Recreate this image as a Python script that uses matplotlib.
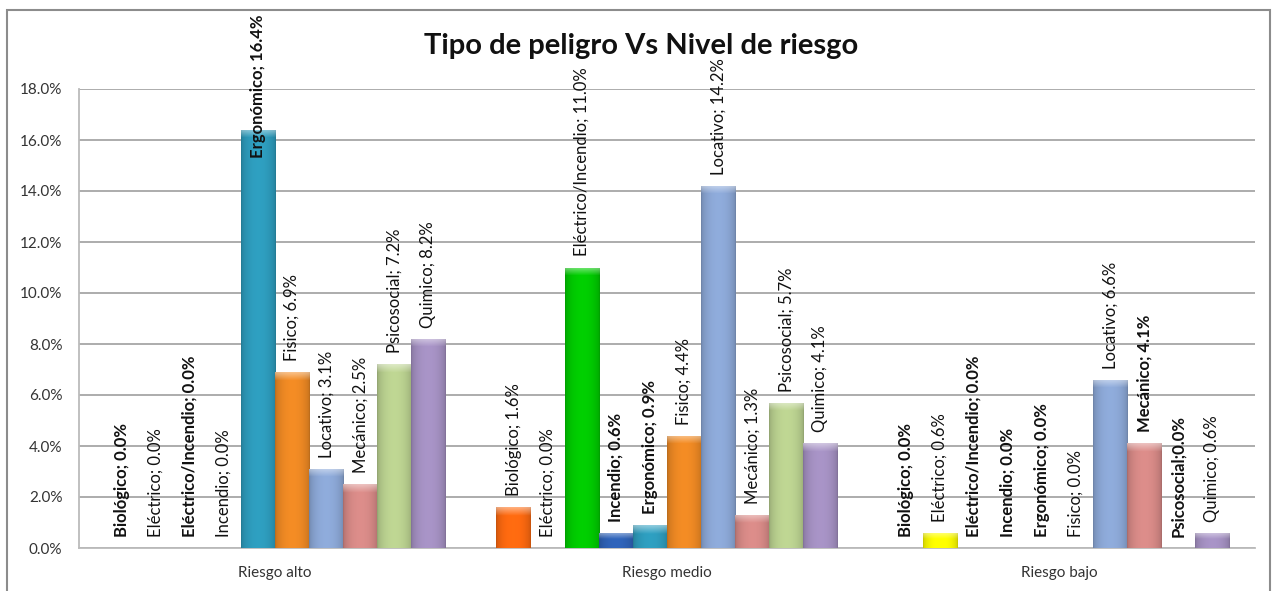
import matplotlib
matplotlib.use("Agg")
import matplotlib.pyplot as plt
import numpy as np
from matplotlib import colors as mcolors
from matplotlib.patches import Rectangle

plt.rcParams['font.family'] = ['Lato', 'DejaVu Sans']

# datos (porcentaje)
niveles = ["Riesgo alto", "Riesgo medio", "Riesgo bajo"]
peligros = ["Biológico", "Eléctrico", "Eléctrico/Incendio", "Incendio", "Ergonómico",
            "Fisico", "Locativo", "Mecánico", "Psicosocial", "Quimico"]
riesgo_alto = [0.0, 0.0, 0.0, 0.0, 16.4, 6.9, 3.1, 2.5, 7.2, 8.2]
riesgo_medio = [1.6, 0.0, 11.0, 0.6, 0.9, 4.4, 14.2, 1.3, 5.7, 4.1]
riesgo_bajo = [0.0, 0.6, 0.0, 0.0, 0.0, 0.0, 6.6, 4.1, 0.0, 0.6]
yticks = [0, 2, 4, 6, 8, 10, 12, 14, 16, 18]

# colores por tipo de peligro
colores = ["#FF6A10", "#FFFF00", "#00CC00", "#2F63B8", "#2E9DBE",
           "#F08A24", "#8DA9D8", "#D98B88", "#BCD391", "#A692C4"]
# etiquetas en negrita (como en el original)
negrita = [
    {"Biológico", "Eléctrico/Incendio", "Ergonómico"},
    {"Incendio", "Ergonómico"},
    {"Biológico", "Eléctrico/Incendio", "Incendio", "Ergonómico", "Mecánico", "Psicosocial"},
]


def bevel(ax, rect, color):
    # degradado horizontal y brillo superior, estilo Excel
    x0, y0 = rect.get_x(), rect.get_y()
    w, h = rect.get_width(), rect.get_height()
    if h <= 0:
        return
    base = np.array(mcolors.to_rgb(color))
    t = np.linspace(0, 1, 40)
    shade = 0.78 + 0.24 * np.sin(np.pi * t) ** 0.5
    rows = max(int(h * 25.5), 2)
    img = np.ones((rows, 40, 3)) * base
    img = img * shade[None, :, None]
    top = min(9, rows // 2)
    k = np.linspace(0.45, 0.0, top)[:, None, None]
    img[:top] = img[:top] * (1 - k) + k
    img = np.clip(img, 0, 1)
    im = ax.imshow(img, extent=(x0, x0 + w, y0, y0 + h), aspect='auto',
                   origin='upper', zorder=3, interpolation='bilinear')
    im.set_clip_path(rect)


fig = plt.figure(figsize=(12.77, 5.91), dpi=100)
ax = fig.add_axes([79 / 1277, 43 / 591, 1176 / 1277, 459 / 591])

series = [riesgo_alto, riesgo_medio, riesgo_bajo]
n = len(peligros)
w = 0.087
x = np.arange(len(niveles))
etiquetas = []
for g, valores in enumerate(series):
    pos = x[g] + (np.arange(n) - (n - 1) / 2) * w
    bars = ax.bar(pos, valores, width=w, color=colores, linewidth=0, zorder=2)
    for rect, c in zip(bars, colores):
        bevel(ax, rect, c)
    for p, v, px in zip(peligros, valores, pos):
        sep = ";" if (g == 2 and p == "Psicosocial") else "; "
        t = ax.annotate(f"{p}{sep}{v:.1f}%", (px, v), xytext=(0, 8),
                        textcoords="offset points", rotation=90, ha="center",
                        va="bottom", fontsize=12, color="#111111",
                        fontweight="bold" if p in negrita[g] else "normal",
                        zorder=5, annotation_clip=False)
        etiquetas.append(t)

ax.set_xlim(-0.5, 2.5)
ax.set_ylim(0, 18)
ax.set_yticks(yticks)
ax.set_yticklabels([f"{v:.1f}%" for v in yticks])
ax.set_xticks(x)
ax.set_xticklabels(niveles)
ax.tick_params(axis="y", length=0, pad=12, labelsize=11, labelcolor="#333333")
ax.tick_params(axis="x", length=0, pad=13, labelsize=11, labelcolor="#333333")
ax.grid(axis="y", color="#A6A6A6", linewidth=1.3, zorder=0)
ax.set_axisbelow(True)
for s in ["top", "right"]:
    ax.spines[s].set_visible(False)
ax.spines["left"].set_color("#BBBBBB")
ax.spines["bottom"].set_color("#BBBBBB")
ax.spines["left"].set_linewidth(1.3)
ax.spines["bottom"].set_linewidth(1.3)

fig.text(0.502, 1 - 46 / 591, "Tipo de peligro Vs Nivel de riesgo",
         ha="center", va="center", fontsize=21, fontweight="bold", color="#111111")

# marco del grafico
fig.add_artist(Rectangle((7 / 1277, -0.1), (1270 - 7) / 1277, 1.1 - 10 / 591,
                         transform=fig.transFigure, fill=False,
                         edgecolor="#8C8C8C", linewidth=1.5))

# si una etiqueta se sale por arriba, se baja (como hace Excel)
fig.canvas.draw()
r = fig.canvas.get_renderer()
limite = fig.bbox.height - 14
for t in etiquetas:
    bb = t.get_window_extent(r)
    if bb.y1 > limite:
        dy = (bb.y1 - limite) * 72 / fig.dpi
        t.xyann = (0, 8 - dy)

fig.savefig("out.png", dpi=100)
